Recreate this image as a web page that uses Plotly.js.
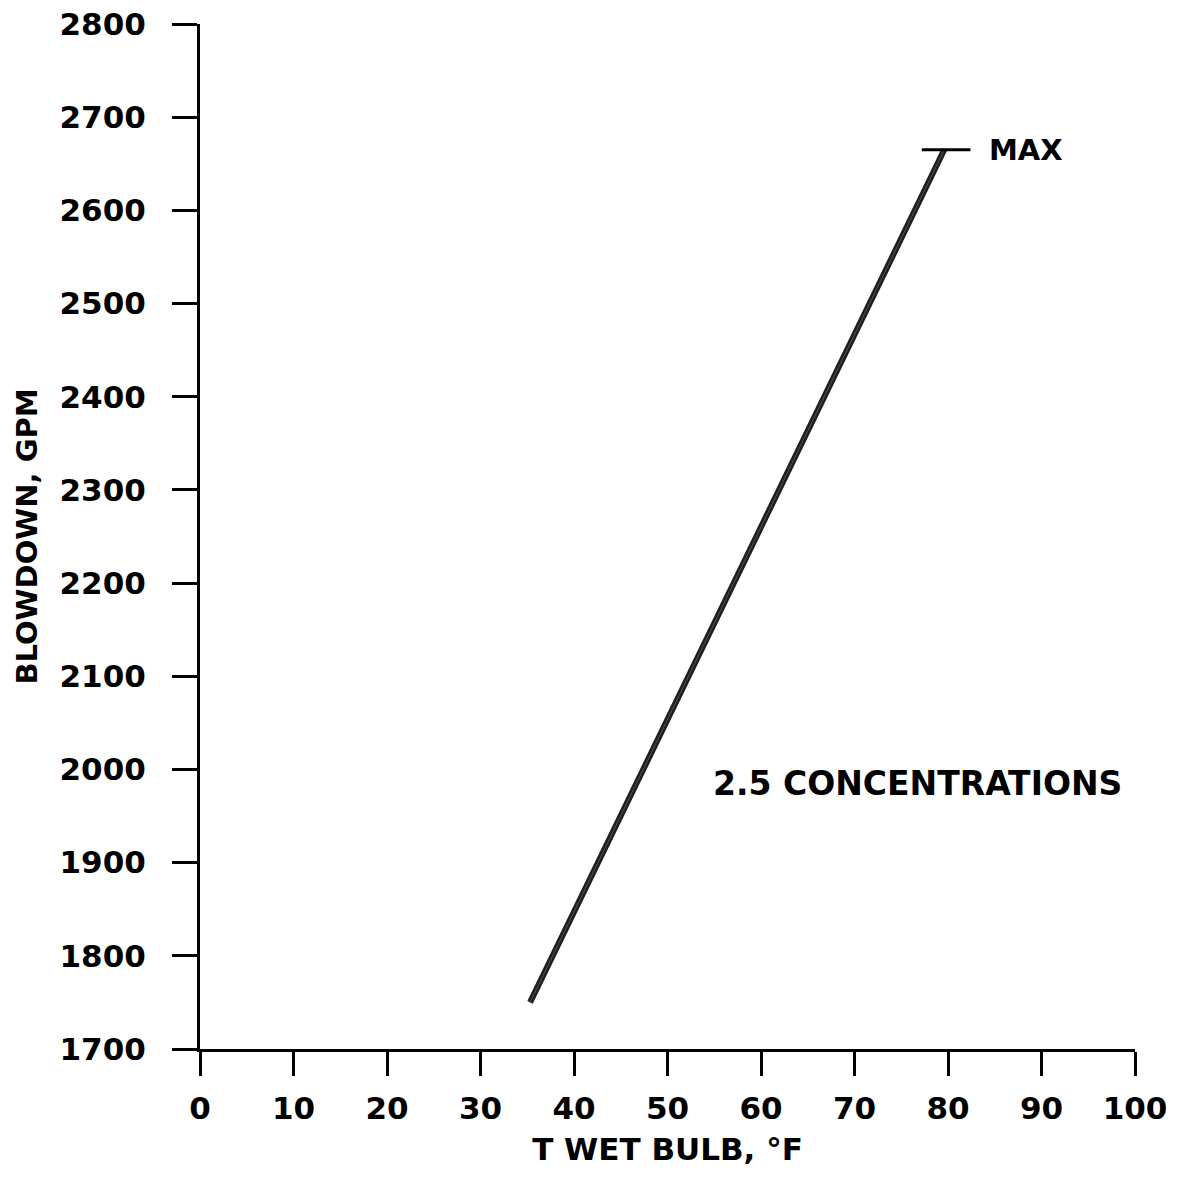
<!DOCTYPE html>
<html>
<head>
<meta charset="utf-8">
<script src="https://cdn.plot.ly/plotly-3.0.1.min.js"></script>
<style>
  html, body { margin: 0; padding: 0; background: #fff; }
  #chart { width: 1185px; height: 1187px; }
</style>
</head>
<body>
<div id="chart"></div>
<script>
// Wet-bulb temperature (°F) and blowdown (GPM)
const wetBulbF = [35.3, 51.0, 79.6];
const blowdownGPM = [1750, 2074, 2665];

// Maximum blowdown marker
const maxWetBulbF = 79.7;
const maxBlowdownGPM = 2665;
const maxLabel = "MAX";
const curveLabel = "2.5 CONCENTRATIONS";

// Axis ticks
const xTicks = [0, 10, 20, 30, 40, 50, 60, 70, 80, 90, 100];
const yTicks = [1700, 1800, 1900, 2000, 2100, 2200, 2300, 2400, 2500, 2600, 2700, 2800];

const FONT = "DejaVu Sans, Liberation Sans, sans-serif";

const traces = [
  {
    x: wetBulbF, y: blowdownGPM, type: "scatter", mode: "lines",
    line: { color: "#1e1e1e", width: 6 }, hoverinfo: "skip", showlegend: false
  },
  {
    x: wetBulbF, y: blowdownGPM, type: "scatter", mode: "lines",
    line: { color: "#555555", width: 1 }, hoverinfo: "skip", showlegend: false
  },
  {
    x: [maxWetBulbF - 2.5, maxWetBulbF + 2.7], y: [maxBlowdownGPM, maxBlowdownGPM],
    type: "scatter", mode: "lines",
    line: { color: "#000", width: 3 }, hoverinfo: "skip", showlegend: false
  }
];

const layout = {
  width: 1185, height: 1187,
  margin: { l: 200, r: 50, t: 24, b: 138 },
  paper_bgcolor: "#fff", plot_bgcolor: "#fff",
  font: { family: FONT, color: "#000", size: 32, weight: 700 },
  showlegend: false,
  xaxis: {
    range: [0, 100], tickvals: xTicks, ticktext: xTicks.map(String),
    showgrid: false, zeroline: false,
    showline: true, linecolor: "#000", linewidth: 3,
    ticks: "outside", ticklen: 24, tickwidth: 3, tickcolor: "#000",
    ticklabelstandoff: 6,
    tickfont: { family: FONT, size: 31, color: "#000", weight: 700 },
    title: { text: "T WET BULB, °F", font: { family: FONT, size: 31, color: "#000", weight: 700 }, standoff: 14 }
  },
  yaxis: {
    range: [1700, 2800], tickvals: yTicks, ticktext: yTicks.map(String),
    showgrid: false, zeroline: false,
    showline: true, linecolor: "#000", linewidth: 3,
    ticks: "outside", ticklen: 25, tickwidth: 3, tickcolor: "#000",
    ticklabelstandoff: 20,
    tickfont: { family: FONT, size: 31, color: "#000", weight: 700 },
    title: { text: "BLOWDOWN, GPM", font: { family: FONT, size: 29, color: "#000", weight: 700 }, standoff: 14 }
  },
  annotations: [
    {
      x: maxWetBulbF + 4.5, y: maxBlowdownGPM, xref: "x", yref: "y",
      text: maxLabel, showarrow: false, xanchor: "left", yanchor: "middle",
      font: { family: FONT, size: 29, color: "#000", weight: 700 }
    },
    {
      x: 54.7, y: 1985, xref: "x", yref: "y",
      text: curveLabel, showarrow: false, xanchor: "left", yanchor: "middle",
      font: { family: FONT, size: 33, color: "#000", weight: 700 }
    }
  ]
};

Plotly.newPlot("chart", traces, layout, { displayModeBar: false, staticPlot: true });
</script>
</body>
</html>
